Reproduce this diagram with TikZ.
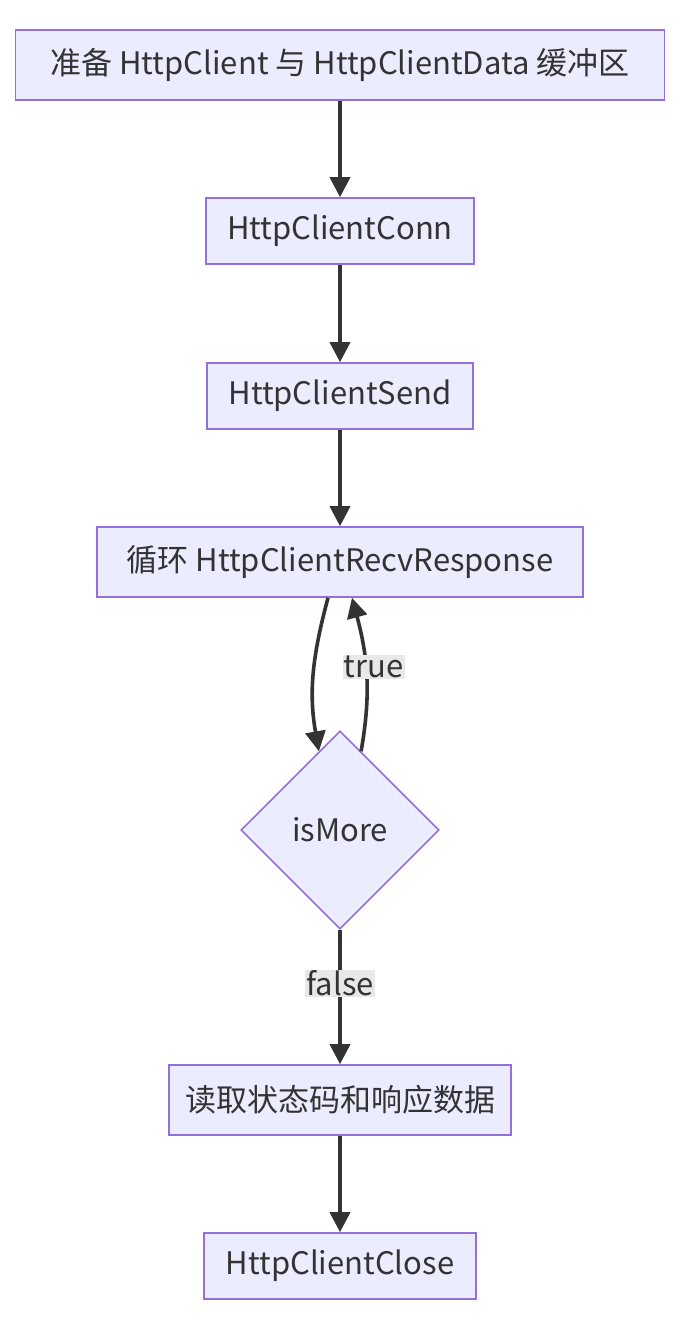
\documentclass[tikz,border=0pt]{standalone}
\usepackage{fontspec}
\setmainfont{Noto Sans CJK SC}
\usetikzlibrary{arrows.meta,shapes.geometric}
\definecolor{boxfill}{HTML}{ECECFF}
\definecolor{boxline}{HTML}{9370DB}
\definecolor{edge}{HTML}{333333}
\definecolor{lblbg}{HTML}{E8E8E8}
\begin{document}
\begin{tikzpicture}[x=1pt,y=-1pt,
  box/.style={draw=boxline,fill=boxfill,line width=1.6pt,text=edge,font=\fontsize{31}{36}\selectfont,minimum height=66pt,inner sep=0pt},
  dec/.style={diamond,draw=boxline,fill=boxfill,line width=1.6pt,text=edge,font=\fontsize{31}{36}\selectfont,minimum size=198pt,inner sep=0pt},
  arr/.style={draw=edge,line width=3.6pt,-{Triangle[length=20pt,width=20pt]}},
  lbl/.style={fill=lblbg,text=edge,font=\fontsize{31}{36}\selectfont,inner sep=1pt}]
\useasboundingbox (0,0) rectangle (696,1332);
%nodes
\node[box,minimum width=649pt,minimum height=70pt] (prep) at (340,65) {准备 HttpClient 与 HttpClientData 缓冲区};
\node[box,minimum width=268pt] (conn) at (340,231) {HttpClientConn};
\node[box,minimum width=266pt] (send) at (340,396) {HttpClientSend};
\node[box,minimum width=486pt,minimum height=70pt] (recv) at (340,562) {循环 HttpClientRecvResponse};
\node[dec] (more) at (340,830) {isMore};
\node[box,minimum width=342pt,minimum height=70pt] (read) at (340,1100) {读取状态码和响应数据};
\node[box,minimum width=272pt] (close) at (340,1266) {HttpClientClose};
%edges
\draw[arr] (prep) -- (conn);
\draw[arr] (conn) -- (send);
\draw[arr] (send) -- (recv);
\draw[arr] ([xshift=-12pt]recv.south) to[out=-105,in=100] (more.105);
\draw[arr] (more.75) to[out=80,in=-75] node[lbl,pos=0.55,xshift=8pt] {true} ([xshift=12pt]recv.south);
\draw[arr] (more) -- node[lbl,pos=0.4] {false} (read);
\draw[arr] (read) -- (close);
\end{tikzpicture}
\end{document}
